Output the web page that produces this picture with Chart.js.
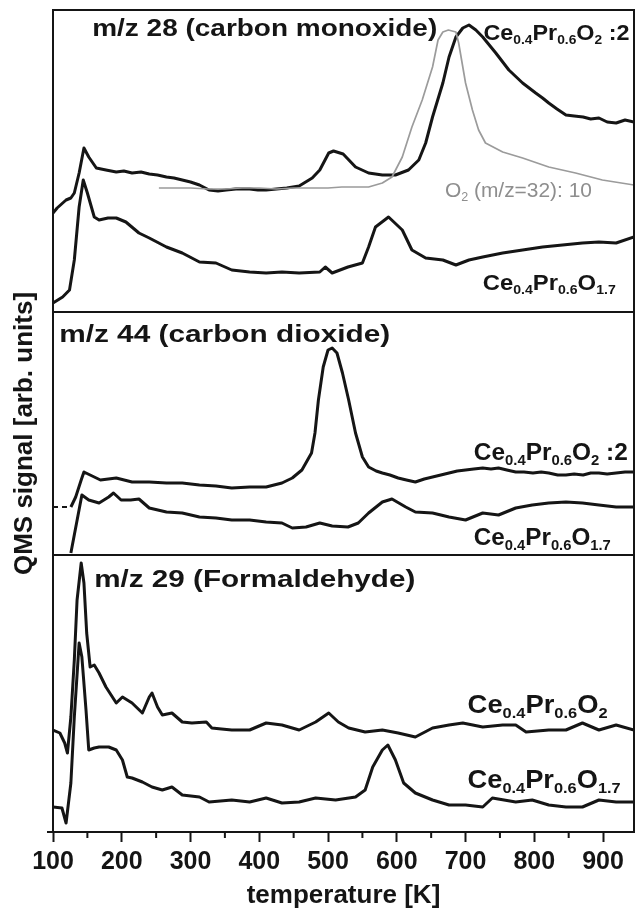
<!DOCTYPE html>
<html><head><meta charset="utf-8">
<script src="https://cdn.jsdelivr.net/npm/chart.js@4/dist/chart.umd.min.js"></script>
<style>html,body{margin:0;padding:0;background:#fff;}#wrap{width:636px;height:911px;position:relative;}</style>
</head><body><div id="wrap"><canvas id="c" width="636" height="911"></canvas></div>
<script>
// ---------- DATA (temperature in K, signal in arbitrary panel units) ----------
// Panel 1: m/z 28 (carbon monoxide)
const coOxT = [100,106,119,126,131,138,145,152,163,177,192,203,215,228,240,252,265,276,288,300,313,327,340,352,366,386,398,410,425,440,458,477,488,501,508,522,540,559,579,598,617,632,642,652,667,676,686,696,705,715,725,744,763,783,802,812,821,833,846,858,871,882,894,906,919,932,945];
const coOxV = [99,104,112,114,119,139,164,155,144,142,140,141,139,140,138,137,135,134,132,130,127,122,121,122,123,123,122,122,123,124,126,134,142,159,161,158,145,139,137,137,142,152,169,195,229,255,275,284,287,282,275,259,242,229,219,214,209,203,197,196,195,193,194,190,189,192,190];
const o2T = [254,280,300,325,350,375,400,425,450,475,500,520,540,559,579,593,608,622,637,652,660,667,675,686,690,700,710,719,729,754,783,821,860,899,945];
const o2V = [124,124,124,123,123,124,124,123,124,124,124,125,125,125,129,135,155,185,212,245,272,280,282,280,269,229,202,182,169,160,154,145,139,132,127];
const coRedT = [100,114,124,131,138,144,150,160,167,180,192,206,225,240,265,288,313,337,360,386,410,433,458,488,496,506,529,550,559,569,588,608,622,642,667,686,705,725,754,783,812,841,870,894,919,945];
const coRedV = [9,15,22,52,105,132,119,95,92,94,94,90,79,74,65,59,50,49,42,40,39,40,39,40,45,39,45,49,65,85,95,82,62,54,52,47,52,55,59,62,65,67,69,70,69,75];
// Panel 2: m/z 44 (carbon dioxide)
const co2OxDashT = [100,126];
const co2OxDashV = [48,48];
const co2OxT = [126,133,141,145,154,169,192,215,240,265,288,313,337,360,386,410,433,448,462,476,481,486,493,500,506,513,521,530,540,550,559,570,579,590,602,614,627,640,652,664,676,688,700,712,725,737,748,760,773,785,798,810,821,834,846,858,871,882,894,906,919,932,945];
const co2OxV = [48,58,75,83,80,75,77,73,73,72,72,70,69,67,68,68,72,77,85,102,122,155,188,205,207,202,182,155,122,98,88,84,82,80,77,75,73,76,78,80,82,84,85,86,87,86,87,85,83,83,82,83,82,80,80,81,80,82,82,81,82,83,83];
const co2RedT = [126,142,152,167,181,188,199,213,225,240,265,288,313,337,360,386,410,433,448,468,488,506,529,544,559,579,593,613,627,652,676,700,725,748,773,797,821,846,870,894,919,945];
const co2RedV = [2,60,55,52,58,62,55,55,56,47,43,42,38,37,35,35,33,32,27,28,32,29,28,32,42,53,56,48,43,42,38,35,42,40,47,50,52,53,52,50,48,48];
// Panel 3: m/z 29 (formaldehyde)
const hchoOxT = [100,110,117,121,126,131,135,141,145,149,154,160,167,177,192,201,215,230,240,244,252,259,273,288,302,323,331,345,360,386,410,433,458,482,501,515,530,554,579,602,627,652,676,696,725,754,773,788,821,846,870,894,919,945];
const hchoOxV = [102,99,89,79,115,172,232,269,249,199,165,167,159,145,129,135,129,119,135,139,125,117,119,110,109,110,104,103,102,102,109,107,102,110,119,110,104,100,102,99,95,104,107,109,105,107,107,100,102,102,109,102,107,102];
const hchoRedT = [100,113,119,126,131,138,142,148,152,160,167,181,192,201,208,215,230,244,259,273,288,313,327,360,386,410,433,458,482,511,540,554,565,579,587,598,610,627,652,676,700,725,739,773,797,821,846,870,894,919,945];
const hchoRedV = [25,24,9,49,115,189,175,122,82,84,85,85,82,72,55,54,50,45,42,45,37,35,30,32,30,34,29,30,34,32,35,42,65,82,87,72,49,39,32,27,27,25,34,30,32,27,25,25,32,30,30];

const xTickValues = [100,200,300,400,500,600,700,800,900];
const xMinorTickValues = [150,250,350,450,550,650,750,850];
const panelTitles = ['m/z 28 (carbon monoxide)','m/z 44 (carbon dioxide)','m/z 29 (Formaldehyde)'];
const xAxisTitle = 'temperature [K]';
const yAxisTitle = 'QMS signal [arb. units]';
// rich labels: [text, isSubscript]
const lblOx2 = [['Ce',0],['0.4',1],['Pr',0],['0.6',1],['O',0],['2',1],[' :2',0]];
const lblRed = [['Ce',0],['0.4',1],['Pr',0],['0.6',1],['O',0],['1.7',1]];
const lblOx = [['Ce',0],['0.4',1],['Pr',0],['0.6',1],['O',0],['2',1]];
const lblO2 = [['O',0],['2',1],[' (m/z=32): 10',0]];

// ---------- CHART ----------
const FONT = "'Liberation Sans', Arial, sans-serif";
const BLACK = '#151515';
const GRAY = '#9b9b9b';
const pts = (T, V) => T.map((t, i) => ({x: t, y: V[i]}));
const line = (T, V, axis, color, width, dash) => ({
  data: pts(T, V), yAxisID: axis, borderColor: color, borderWidth: width,
  borderDash: dash || [], pointRadius: 0, fill: false, tension: 0, borderJoinStyle: 'round'
});

// text annotations: positions in data coordinates of their panel
const annotations = [
  {axis: 'yCO', x: 157, y: 276, parts: [[panelTitles[0],0]], size: 23, bold: true, color: BLACK, w: 345},
  {axis: 'yCO', x: 726, y: 272, parts: lblOx2, size: 22, bold: true, color: BLACK, w: 146},
  {axis: 'yCO', x: 670, y: 115, parts: lblO2, size: 20, bold: false, color: '#8e8e8e', w: 147},
  {axis: 'yCO', x: 725, y: 22, parts: lblRed, size: 22, bold: true, color: BLACK, w: 133},
  {axis: 'yCO2', x: 109, y: 213, parts: [[panelTitles[1],0]], size: 24, bold: true, color: BLACK, w: 331},
  {axis: 'yCO2', x: 712, y: 95, parts: lblOx2, size: 23, bold: true, color: BLACK, w: 154},
  {axis: 'yCO2', x: 712, y: 10, parts: lblRed, size: 23, bold: true, color: BLACK, w: 137},
  {axis: 'yHCHO', x: 160, y: 245, parts: [[panelTitles[2],0]], size: 23, bold: true, color: BLACK, w: 321},
  {axis: 'yHCHO', x: 703, y: 119, parts: lblOx, size: 25, bold: true, color: BLACK, w: 140},
  {axis: 'yHCHO', x: 703, y: 44, parts: lblRed, size: 25, bold: true, color: BLACK, w: 153}
];

function drawRich(ctx, a, px, py) {
  const main = (a.bold ? 'bold ' : '') + a.size + 'px ' + FONT;
  const subSize = Math.round(a.size * 0.6);
  const sub = (a.bold ? 'bold ' : '') + subSize + 'px ' + FONT;
  let nat = 0;
  a.parts.forEach(p => { ctx.font = p[1] ? sub : main; nat += ctx.measureText(p[0]).width; });
  const sx = a.w ? a.w / nat : 1;
  ctx.save();
  ctx.translate(px, py);
  ctx.scale(sx, 1);
  ctx.fillStyle = a.color;
  ctx.textBaseline = 'alphabetic';
  ctx.textAlign = 'left';
  let cx = 0;
  a.parts.forEach(p => {
    ctx.font = p[1] ? sub : main;
    ctx.fillText(p[0], cx, p[1] ? a.size * 0.2 : 0);
    cx += ctx.measureText(p[0]).width;
  });
  ctx.restore();
}

const decor = {
  id: 'decor',
  afterDraw(chart) {
    const {ctx, chartArea: ca, scales} = chart;
    ctx.save();
    ctx.strokeStyle = BLACK;
    ctx.lineWidth = 2;
    ctx.strokeRect(ca.left, ca.top, ca.right - ca.left, ca.bottom - ca.top);
    ctx.beginPath();
    [scales.yCO2.top, scales.yHCHO.top].forEach(y => { ctx.moveTo(ca.left, y); ctx.lineTo(ca.right, y); });
    // minor ticks
    xMinorTickValues.forEach(v => {
      const x = scales.x.getPixelForValue(v);
      ctx.moveTo(x, ca.bottom); ctx.lineTo(x, ca.bottom + 6);
    });
    ctx.moveTo(ca.left - 6, ca.bottom); ctx.lineTo(ca.left, ca.bottom);
    ctx.stroke();
    annotations.forEach(a => {
      drawRich(ctx, a, scales.x.getPixelForValue(a.x), scales[a.axis].getPixelForValue(a.y));
    });
    ctx.restore();
  }
};

const yAxis = (min, max, weight, sw, title) => ({
  type: 'linear', position: 'left', stack: 'panels', stackWeight: sw, weight: weight,
  min: min, max: max,
  ticks: {display: false},
  grid: {drawOnChartArea: false, drawTicks: false},
  border: {display: true, color: BLACK, width: 2},
  title: title ? {display: true, text: title, color: BLACK, font: {family: FONT, size: 26, weight: 'bold'}, padding: {top: 9, bottom: 0}} : {display: false},
  afterFit(s) { s.width = 53; }
});

new Chart(document.getElementById('c'), {
  type: 'line',
  data: {
    datasets: [
      line(o2T, o2V, 'yCO', GRAY, 1.7),
      line(coOxT, coOxV, 'yCO', BLACK, 3),
      line(coRedT, coRedV, 'yCO', BLACK, 3),
      line(co2OxDashT, co2OxDashV, 'yCO2', BLACK, 2, [5, 4]),
      line(co2OxT, co2OxV, 'yCO2', BLACK, 3),
      line(co2RedT, co2RedV, 'yCO2', BLACK, 3),
      line(hchoOxT, hchoOxV, 'yHCHO', BLACK, 3),
      line(hchoRedT, hchoRedV, 'yHCHO', BLACK, 3)
    ]
  },
  options: {
    responsive: false,
    animation: false,
    layout: {padding: {top: 10, right: 2, left: 0, bottom: 0}},
    plugins: {legend: {display: false}, tooltip: {enabled: false}},
    scales: {
      x: {
        type: 'linear', position: 'bottom', min: 100, max: 945,
        afterBuildTicks(s) { s.ticks = xTickValues.map(v => ({value: v})); },
        ticks: {color: BLACK, font: {family: FONT, size: 25, weight: 'bold'}, padding: 5, maxRotation: 0},
        grid: {drawOnChartArea: false, drawTicks: true, tickLength: 10, tickWidth: 2, tickColor: BLACK},
        border: {display: true, color: BLACK, width: 2},
        title: {display: true, text: xAxisTitle, color: BLACK, font: {family: FONT, size: 26, weight: 'bold'}, padding: {top: 0, bottom: 0}},
        afterFit(s) { s.height = 79; }
      },
      yHCHO: yAxis(0, 277, 1, 277, null),
      yCO2: yAxis(0, 243, 2, 243, yAxisTitle),
      yCO: yAxis(0, 302, 3, 302, null)
    }
  },
  plugins: [decor]
});
</script></body></html>
